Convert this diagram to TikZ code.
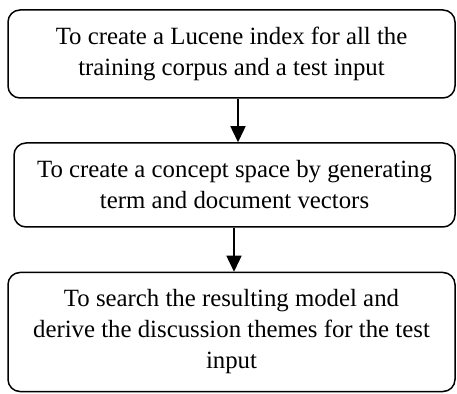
\documentclass[tikz,border=0pt]{standalone}
\usepackage{fontspec}
\setmainfont{Liberation Serif}
\usetikzlibrary{arrows.meta}
\begin{document}
\begin{tikzpicture}[x=1pt,y=1pt,
  stepbox/.style={draw=black, line width=1.5pt, rounded corners=12pt, inner sep=0pt,
    align=center, font=\fontsize{24.8}{31}\selectfont},
  arr/.style={line width=1.5pt, -{Triangle[width=15pt,length=16pt]}}]
\useasboundingbox (0,0) rectangle (457,393);
\node[stepbox, minimum width=447pt, minimum height=88pt] (b1) at (231.5,339)
  {To create a Lucene index for all the\\training corpus and a test input};
\node[stepbox, minimum width=441pt, minimum height=84pt] (b2) at (234.5,208)
  {To create a concept space by generating\\term and document vectors};
\node[stepbox, minimum width=447pt, minimum height=119pt] (b3) at (231.5,61)
  {To search the resulting model and\\derive the discussion themes for the test\\input};
\coordinate (x1) at (238,0);
\coordinate (x2) at (234,0);
\draw[arr] (b1.south -| x1) -- (b2.north -| x1);
\draw[arr] (b2.south -| x2) -- (b3.north -| x2);
\end{tikzpicture}
\end{document}
